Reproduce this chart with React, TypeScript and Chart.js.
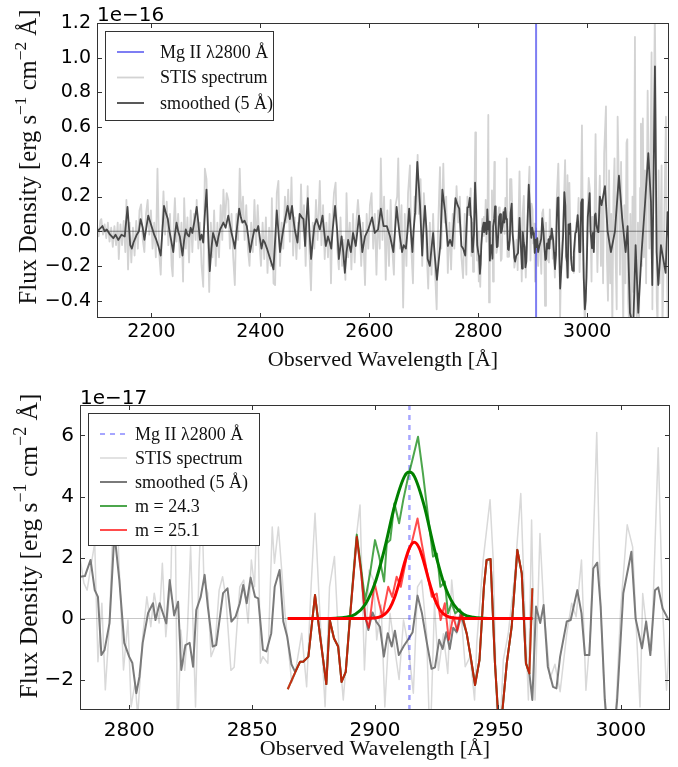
import React, { useEffect, useRef } from "react";
import { Chart, registerables } from "chart.js";

Chart.register(...registerables);

const SERIF = '"Liberation Serif", "Times New Roman", serif';
const SANS = '"DejaVu Sans", sans-serif';

// ---------------- axes / ticks ----------------
const TOP_X_MIN = 2100;
const TOP_X_MAX = 3150;
const TOP_Y_MIN = -5; // units of 1e-17
const TOP_Y_MAX = 12;
const TOP_X_TICKS = [2200, 2400, 2600, 2800, 3000];
const TOP_Y_TICKS = [-4, -2, 0, 2, 4, 6, 8, 10, 12];
const TOP_Y_TICK_LABELS = ["\u22120.4", "\u22120.2", "0.0", "0.2", "0.4", "0.6", "0.8", "1.0", "1.2"];

const BOT_X_MIN = 2780;
const BOT_X_MAX = 3020;
const BOT_Y_MIN = -3;
const BOT_Y_MAX = 7;
const BOT_X_TICKS = [2800, 2850, 2900, 2950, 3000];
const BOT_Y_TICKS = [-2, 0, 2, 4, 6];
const BOT_Y_TICK_LABELS = ["\u22122", "0", "2", "4", "6"];

const MGII_TOP = 2906;
const MGII_ZOOM = 2914;

// ---------------- STIS spectrum (flux in 1e-17 erg/s/cm2/A) ----------------
const RAW_WAVE = [
  2100, 2103, 2106, 2108, 2111, 2114, 2117, 2120, 2123, 2126,
  2129, 2132, 2135, 2138, 2140, 2143, 2146, 2149, 2152, 2154,
  2157, 2160, 2163, 2166, 2169, 2172, 2175, 2178, 2181, 2184,
  2187, 2190, 2193, 2196, 2199, 2202, 2205, 2208, 2211, 2214,
  2217, 2220, 2222, 2225, 2228, 2231, 2234, 2237, 2239, 2241,
  2243, 2246, 2249, 2252, 2255, 2258, 2260, 2263, 2266, 2269,
  2272, 2275, 2278, 2281, 2283, 2286, 2289, 2292, 2295, 2298,
  2301, 2304, 2306, 2309, 2312, 2315, 2318, 2321, 2324, 2327,
  2330, 2332, 2335, 2338, 2341, 2344, 2347, 2350, 2353, 2356,
  2359, 2362, 2365, 2368, 2371, 2374, 2377, 2380, 2383, 2386,
  2389, 2392, 2395, 2398, 2401, 2404, 2407, 2410, 2413, 2416,
  2419, 2421, 2424, 2427, 2430, 2433, 2436, 2439, 2442, 2445,
  2448, 2451, 2454, 2457, 2460, 2463, 2466, 2469, 2472, 2474.5,
  2477, 2480, 2483, 2486.7, 2489, 2492.8, 2496, 2499, 2502, 2505,
  2509, 2512, 2515, 2518, 2521, 2524, 2527, 2529.5, 2532, 2535,
  2538, 2541, 2544, 2547, 2550, 2553, 2556, 2558, 2561, 2564,
  2567, 2570, 2573, 2576, 2579, 2582, 2585, 2588, 2592, 2595,
  2598, 2601, 2604, 2607, 2610, 2613, 2616, 2619, 2621, 2624,
  2627, 2630, 2633, 2636, 2639, 2642, 2645, 2648, 2651, 2653,
  2656, 2659, 2662, 2665, 2668, 2671, 2674.5, 2677, 2680, 2683,
  2686, 2688.6, 2691, 2694, 2697, 2700, 2703, 2705, 2708, 2711,
  2714, 2717, 2720, 2723.5, 2726, 2729.6, 2732, 2735.7, 2738, 2741,
  2744, 2747, 2750, 2753, 2756, 2760, 2763, 2766, 2769, 2772,
  2775, 2778, 2780, 2781.6, 2782.9, 2784.6, 2786, 2787.3, 2788.9, 2790.3,
  2792, 2794.5, 2795.7, 2797.7, 2799.5, 2800.8, 2802.4, 2803.5, 2805.5, 2807.2,
  2808.8, 2810.2, 2812.2, 2813.5, 2814.9, 2817, 2818.3, 2819.7, 2821, 2822.6,
  2823.7, 2825, 2827, 2828.4, 2829.5, 2830.4, 2832, 2833.3, 2834.9, 2836.6,
  2838, 2839.3, 2841.4, 2842.7, 2845, 2846.6, 2848.4, 2849.7, 2851, 2852.2,
  2853.4, 2854.4, 2856.4, 2858.2, 2859.1, 2860.7, 2863.4, 2866.1, 2867.5, 2870.2,
  2872.2, 2874, 2875.6, 2877.3, 2879.7, 2881.5, 2883.5, 2885.4, 2887.1, 2889.8,
  2891.8, 2893.9, 2895.7, 2897.6, 2899.4, 2900.7, 2902.5, 2904, 2906.1, 2907.9,
  2909.8, 2911.6, 2913.6, 2915.6, 2917.3, 2919, 2921, 2922.4, 2924.2, 2925.8,
  2927.8, 2929.6, 2931.2, 2933.2, 2935, 2936.7, 2938.7, 2940.5, 2941.4, 2944,
  2946.8, 2948.1, 2950.1, 2952.2, 2954.2, 2956.9, 2959.3, 2961, 2962.4, 2963.7,
  2965.1, 2967.1, 2968.7, 2971.2, 2973.2, 2975.3, 2978, 2980, 2981.8, 2984,
  2985.8, 2987.7, 2990.2, 2991.8, 2993.5, 2995.5, 2998.2, 2999.9, 3002.6, 3004.8,
  3006.4, 3007.8, 3008.9, 3010.4, 3012.5, 3015.2, 3017, 3018.6, 3020.7, 3023,
  3025, 3027, 3029, 3031, 3034.3, 3036, 3038, 3040, 3042, 3044,
  3046, 3048, 3050, 3052, 3054, 3055.7, 3058, 3060, 3062, 3064,
  3066, 3068, 3070, 3072, 3073.5, 3075, 3077, 3079, 3081, 3083,
  3085, 3087.5, 3089, 3091, 3093, 3095, 3097, 3098.5, 3100, 3102,
  3104, 3106, 3108, 3110.8, 3112, 3114, 3116, 3118, 3119.5, 3121,
  3124, 3126, 3127.5, 3129, 3131, 3133, 3135, 3136.4, 3138, 3140,
  3142, 3144.4, 3146, 3148, 3150,
];
const RAW_FLUX = [
  0.3, -0.3, 0.6, 0.7, -0.2, 0.4, -0.4, 0.5, -0.6, 0.2,
  -0.9, 0.3, -0.8, 0.5, -1.6, 0.4, -0.8, 0.6, -1.2, 1.8,
  -2.2, 0.5, -1.8, 0.2, -1.4, 0.6, -1.0, 1.2, 1.55, -0.5,
  -1.2, 1.0, 1.8, -0.2, 1.2, -1.0, 0.5, -1.5, 3.6, -1.2,
  -2.5, 0.5, 2.3, -0.2, 1.7, -0.8, 1.0, -2.0, -2.6, 0.5,
  1.9, -0.6, 1.0, -1.5, 0.5, -2.9, 1.9, -1.0, 0.8, -1.8,
  1.2, -1.2, 1.0, -0.5, 1.8, -1.0, 0.5, -2.0, -3.2, 3.6,
  3.0, -1.0, -3.5, 0.5, -1.5, 1.2, -2.0, 0.5, -1.5, 1.5,
  -0.5, 2.4, 0.5, 2.2, 1.8, -1.0, 1.0, -1.5, -3.1, 1.0,
  -0.5, 3.6, 0.5, 2.0, -0.5, 1.5, -1.0, -2.0, 0.5, -1.2,
  1.8, -0.8, 1.5, -0.5, -2.0, 0.5, -1.6, 0.8, -2.4, 0.2,
  -2.0, 1.9, -3.0, -3.1, 2.2, 2.9, -2.0, 0.5, -1.0, 2.0,
  0.5, 2.4, -0.6, 3.1, -1.4, 0.8, -1.6, 0.5, -1.0, 2.7,
  0.0, 1.5, -2.0, 2.6, -0.5, -3.4, 0.5, -1.0, 1.8, -0.5,
  2.9, -0.8, 1.5, -1.6, 0.5, -1.5, 1.0, -3.0, 0.5, 2.2,
  2.8, -1.0, -2.2, 0.8, -2.0, -0.5, -2.8, 2.2, -1.5, 0.5,
  -2.2, 1.0, -1.8, 0.5, 1.8, 0.5, -2.0, 0.5, -3.1, 1.0,
  -1.0, 1.5, 2.2, -1.0, 1.0, -2.5, 1.2, -1.0, 4.2, -0.5,
  2.0, -2.8, 1.2, -2.0, 1.8, -1.0, -2.5, 1.5, 2.0, 4.2,
  -1.0, 1.5, -4.4, 1.0, -2.0, 2.2, 3.8, -1.0, -3.0, 2.0,
  1.0, 4.4, 1.0, 3.0, -2.0, 2.2, 0.5, -1.0, -3.3, 0.5,
  -2.5, 1.0, -2.0, -4.5, 0.0, 3.7, -1.0, 3.9, 0.5, 2.0,
  -2.4, 0.5, -2.2, 1.0, -1.0, 2.6, 0.5, 2.0, -1.5, -2.7,
  1.0, -2.5, 2.0, 1.16, 0.93, 1.8, 2.47, -1.42, 0.5, -2.34,
  -0.15, 5.7, 2.15, -1.69, -0.05, -2.89, -2.1, -3.2, -0.6, 0.71,
  -0.27, 0.83, -0.15, 1.81, -0.6, 1.37, 6.7, -4.1, -0.38, -1.7,
  -0.38, 2.35, -2.9, 1.59, 4.0, 1.26, 0.83, -1.25, -0.92, 0.93,
  1.37, 0.71, -1.7, -1.6, 1.04, 1.26, -0.15, 1.92, 1.04, 4.2,
  -1.47, -1.25, -1.47, 3.0, 1.81, 3.0, 0.17, -2.1, -1.8, -0.48,
  -2.24, 1.04, 3.45, 0.6, -2.89, 1.04, 2.03, -1.03, -2.67, 0.17,
  2.26, 3.72, -1.69, 1.59, 1.26, -0.7, 0.44, -2.9, 0.17, -0.92,
  -2.0, -0.05, -0.92, -2.45, 1.04, 1.26, -0.5, -4.3, 0.5, -1.7,
  -0.5, -1.8, 1.26, -0.5, 0.17, -1.58, -1.25, -2.67, -0.8, 1.92,
  3.89, 1.92, -5.0, -1.36, -0.5, 1.48, 4.1, 0.17, -2.67, 3.23,
  -2.67, 2.79, 0.28, -1.97, -1.5, -2.4, -0.5, 0.5, 0.06, 1.92,
  -2.35, -0.38, 6.1, 0.28, -2.9, -5.5, -2.67, 0.28, 3.07, 2.35,
  -0.5, -2.9, 0.82, -0.27, -1.04, 5.6, 0.28, -2.35, 0.6, 3.2,
  -2.0, 1.5, -3.0, 4.5, 7.2, -1.5, -4.0, 3.5, -3.0, 1.0,
  -5.5, 2.0, 4.2, -1.5, -4.5, 6.6, 2.5, -2.5, 4.0, -1.0,
  -5.5, 1.5, -3.0, 5.1, 5.3, -4.0, -5.5, 1.0, -5.5, 2.0,
  -3.5, 11.2, -2.0, -5.5, 0.5, -5.5, 2.5, 6.2, -2.0, 6.5,
  -1.5, 3.5, -3.0, 8.1, 5.0, -1.0, 4.0, 10.3, -4.5, 3.0,
  12.5, 6.0, -4.0, -5.5, 3.5, -3.0, 1.0, 3.8, -5.5, -2.0,
  2.0, 6.6, -2.0, -5.5, 1.0,
];

// ---------------- smoothed (5 A) spectrum ----------------
const SMOOTH_WAVE = [
  2100, 2104, 2110, 2114, 2118, 2124, 2130, 2134, 2139, 2145,
  2151, 2156, 2161, 2164, 2167, 2173, 2177, 2180, 2184, 2187,
  2191, 2194, 2197, 2200, 2205, 2209, 2213, 2217, 2220, 2223,
  2227, 2230, 2233, 2236, 2240, 2243, 2246, 2249, 2252, 2257,
  2260, 2263, 2266, 2269, 2272, 2275, 2279, 2283, 2286, 2289,
  2292, 2295, 2298, 2301, 2304, 2307, 2310, 2313, 2316, 2320,
  2323, 2326, 2329, 2332, 2336, 2341, 2344, 2347, 2350, 2353,
  2357, 2361, 2364, 2367, 2371, 2375, 2378, 2381, 2385, 2389,
  2393, 2396, 2399, 2402, 2405, 2408, 2412, 2416, 2420, 2424,
  2427, 2430, 2433, 2436, 2439, 2442, 2446, 2450, 2454, 2458,
  2461, 2463, 2468, 2472, 2476, 2479, 2482, 2484, 2487, 2490,
  2493, 2496, 2499, 2503, 2506, 2509, 2514, 2517, 2520, 2524,
  2527, 2530, 2533, 2537, 2541, 2544, 2549, 2552, 2555, 2558,
  2561, 2566, 2570, 2575, 2578, 2581, 2584, 2587, 2592, 2598,
  2602, 2605, 2610, 2616, 2621, 2626, 2632, 2635, 2638, 2644,
  2647, 2650, 2653, 2656, 2660, 2663, 2667, 2670, 2673, 2676,
  2679, 2681, 2684, 2688, 2691, 2693, 2697, 2699, 2702, 2705,
  2707, 2711, 2714, 2717, 2720, 2724, 2727, 2730, 2734, 2739,
  2744, 2748, 2752, 2755, 2758, 2762, 2765, 2769, 2772, 2776,
  2780, 2782, 2784.3, 2786, 2787.3, 2788.7, 2790, 2792, 2794, 2796,
  2798, 2800, 2801.3, 2802.9, 2804.2, 2805.5, 2807.7, 2809.7, 2810.7, 2812.4,
  2815.1, 2816.5, 2818.3, 2819.9, 2821.2, 2822.9, 2824.6, 2826, 2827.3, 2829.1,
  2830.7, 2832, 2834, 2835.4, 2838.2, 2840, 2841.6, 2843.3, 2845, 2846.4,
  2847.8, 2849.4, 2851.2, 2852.5, 2854.4, 2855.8, 2857.8, 2859.2, 2861.2, 2862.7,
  2864.3, 2866, 2867.5, 2869.5, 2870.8, 2872.9, 2875.6, 2877.7, 2880.2, 2881.6,
  2883.3, 2885, 2886.4, 2888.1, 2889.8, 2892.6, 2894.4, 2896, 2897.3, 2899,
  2900.5, 2902, 2903.6, 2905.2, 2906.8, 2908.1, 2909.7, 2911.7, 2913.8, 2915.3,
  2917.3, 2919.1, 2921, 2923, 2924.4, 2926.1, 2927.5, 2929, 2930.4, 2931.8,
  2933.2, 2934.7, 2937.3, 2938.9, 2940.7, 2942.5, 2944.3, 2945.4, 2947, 2948.8,
  2950.2, 2951.5, 2953.6, 2955.6, 2957.9, 2959.7, 2961.4, 2962.8, 2964, 2965.5,
  2967.2, 2968.6, 2970.3, 2972.4, 2973.8, 2975.3, 2978, 2979.6, 2982.3, 2984,
  2985.4, 2987.2, 2988.8, 2990.4, 2991.8, 2993.5, 2995.5, 2997, 2998.5, 3001,
  3004.3, 3006, 3008.6, 3010.3, 3012, 3013.9, 3015.2, 3017, 3019.3, 3020.5,
  3023, 3026.3, 3032.4, 3037.3, 3043.4, 3050.8, 3058.1, 3064.2, 3070.4, 3074,
  3078.3, 3084.4, 3088.7, 3093.6, 3099.7, 3105.8, 3112, 3116.9, 3119.3, 3124.2,
  3127.3, 3130.3, 3135.2, 3139.5, 3143.8, 3147.4, 3151,
];
const SMOOTH_FLUX = [
  0.0, 0.1, 0.3, 0.0, 0.1, -0.2, -0.4, -0.2, -0.5, -0.2,
  -0.3, 1.4, -0.8, -1.0, -0.65, -0.2, 0.0, 0.7, 0.2, -0.5,
  0.3, 0.9, 0.6, 0.3, -0.2, -0.5, -0.9, -1.4, 0.0, 1.46,
  1.0, 0.7, 0.0, -0.5, -1.2, -0.2, 0.5, 0.0, -0.3, -1.4,
  -0.5, 0.1, -0.2, -0.3, 0.2, -0.1, 0.6, 1.4, 0.5, -0.5,
  -0.2, -0.65, 1.0, 2.4, 0.0, -2.3, -1.0, -0.1, -0.4, -0.85,
  -0.3, 0.1, 0.3, 0.5, 0.2, 0.9, 0.4, -0.1, -0.5, -1.0,
  0.2, 1.3, 0.8, 0.5, 0.6, 0.3, -0.4, -1.2, -0.5, 0.1,
  0.0, 0.3, -0.4, -1.0, -0.5, -0.65, -1.0, -1.4, -1.8, -2.2,
  -0.5, 1.2, 0.0, -1.2, -0.5, 0.1, 0.8, 1.46, 0.7, 1.46,
  0.6, 0.1, -0.65, 1.0, 0.8, 0.7, -0.85, 0.5, 1.9, 0.0,
  -1.6, -0.6, 0.3, 0.7, 0.4, 0.1, 0.9, 0.0, -0.85, -0.3,
  -0.6, -1.0, 0.2, 1.46, 0.0, -1.6, -0.3, -1.2, -2.4, -1.2,
  -0.5, -1.2, -0.1, -0.85, 0.0, 0.9, 0.0, -1.2, -0.3, 0.1,
  0.5, 0.8, -0.1, 0.1, 1.3, 0.3, 0.3, 0.0, -0.3, -1.2,
  0.0, 1.4, 0.5, -0.3, -1.2, -0.8, -1.0, 0.0, 1.3, 0.0,
  -1.2, 0.0, 1.1, 4.0, 2.5, 1.46, -1.4, 0.0, 1.46, 0.0,
  -1.6, -2.0, -1.0, -0.1, -1.4, -2.8, -1.8, -0.85, 2.4, 1.1,
  -0.85, -0.5, -0.85, 0.5, 1.9, 1.5, 1.3, -0.85, -1.0, -1.4,
  1.37, 1.39, 1.92, 0.93, 0.71, -1.2, -1.03, -0.15, 2.8, 1.26,
  -0.8, -1.25, -1.46, -2.45, -1.9, -0.8, 0.18, 0.5, -0.05, 0.5,
  -0.16, 1.26, 0.1, 0.55, -1.69, -0.87, -0.8, -1.58, 0.28, 0.71,
  1.43, 0.39, -0.92, -0.87, 0.83, 0.99, -0.1, 0.06, 0.5, 1.1,
  0.5, 1.34, 0.71, 0.66, -1.03, -1.08, -0.48, 1.04, 1.59, -0.1,
  -0.6, -1.5, -1.75, -1.42, -1.42, -1.25, 0.77, -0.6, -2.15, -0.05,
  -0.65, -0.92, -2.08, -1.75, 0.0, 2.68, 1.48, 0.06, -0.38, 0.2,
  -0.1, -0.27, -1.25, -0.48, -0.92, -0.4, -1.2, -0.9, -0.65, -0.45,
  0.75, 0.17, -0.75, -1.65, -1.6, -0.7, -1.0, -0.45, -1.0, -0.3,
  -0.45, 0.15, -0.49, -1.25, -2.18, -1.36, 1.04, 1.92, 1.95, -1.47,
  -3.3, -3.3, -1.47, -0.27, 2.25, 1.48, -1.47, -1.8, -2.67, 0.39,
  -0.15, 0.44, -1.58, -2.24, -2.29, -1.25, -0.1, -0.05, 0.93, 0.17,
  -1.2, -1.2, 1.64, 1.83, 0.39, -2.67, -4.5, -4.0, -2.67, 0.83,
  2.19, 0.0, -0.98, -0.1, -1.2, 0.93, 1.02, 0.33, -0.03, -0.05,
  2.0, 1.5, 2.6, 0.0, -1.2, 0.0, 3.2, 0.7, -1.2, 0.3,
  -4.7, -5.5, -0.8, -4.7, -1.2, 1.5, 4.5, 1.7, -3.1, 9.5,
  -1.2, -3.1, -0.8, -1.6, -2.4, 1.1, -1.2,
];

// ---------------- spectrum with injected lines ----------------
const GREEN_WAVE = [
  2864.5, 2866.8, 2869.5, 2870.8, 2872.9, 2875.6, 2877.7, 2880.2, 2881.6, 2883.3,
  2885, 2886.4, 2888.1, 2889.8, 2892.6, 2894.4, 2896, 2898, 2900, 2901.7,
  2903.7, 2904.8, 2906.2, 2907.9, 2909.8, 2911.5, 2913.5, 2915.2, 2917.5, 2919.5,
  2921.6, 2923.6, 2925.2, 2926.6, 2928.4, 2929.7, 2931.1, 2932.7, 2934.5, 2935.3,
  2937.3, 2938.9, 2940.7, 2942.5, 2944.3, 2945.4, 2947, 2948.8, 2950.2, 2951.5,
  2953.6, 2955.6, 2957.9, 2959.7, 2961.4, 2962.8, 2964,
];
const GREEN_FLUX = [
  -2.32, -1.9, -1.42, -1.42, -1.25, 0.77, -0.6, -2.15, -0.05, -0.65,
  -0.92, -2.08, -1.75, 0.05, 2.75, 1.6, 0.6, 1.48, 2.57, 2.03,
  1.21, 2.47, 2.57, 3.78, 3.12, 3.89, 4.65, 5.2, 5.96, 4.76,
  3.34, 2.03, 2.13, 1.04, 1.21, 0.17, 0.5, 0.17, 0.3, 0.17,
  -0.49, -1.25, -2.18, -1.36, 1.04, 1.92, 1.95, -1.47, -3.3, -3.3,
  -1.47, -0.27, 2.25, 1.48, -1.47, -1.8, 0.99,
];
const RED_WAVE = [
  2864.5, 2866.8, 2869.5, 2870.8, 2872.9, 2875.6, 2877.7, 2880.2, 2881.6, 2883.3,
  2885, 2886.4, 2888.1, 2889.8, 2892.6, 2894.4, 2896, 2897.5, 2899.8, 2901.4,
  2903, 2905.4, 2907, 2908.8, 2910.5, 2912.9, 2914.9, 2917.3, 2919, 2921,
  2923.1, 2925.1, 2926.7, 2928.4, 2930, 2931.8, 2933.5, 2935.3,
  2937.3, 2938.9, 2940.7, 2942.5, 2944.3, 2945.4, 2947, 2948.8, 2950.2, 2951.5,
  2953.6, 2955.6, 2957.9, 2959.7, 2961.4, 2962.8, 2964,
];
const RED_FLUX = [
  -2.32, -1.9, -1.42, -1.42, -1.25, 0.77, -0.6, -2.15, -0.05, -0.65,
  -0.92, -2.08, -1.75, 0.0, 2.68, 1.48, 0.06, -0.3, 1.17, 0.6,
  0.06, 1.04, 0.71, 1.37, 1.04, 2.03, 2.47, 3.28, 2.47, 1.59,
  0.71, 0.82, -0.05, 0.5, -0.7, 0.06, -0.4, 0.17,
  -0.49, -1.25, -2.18, -1.36, 1.04, 1.92, 1.95, -1.47, -3.3, -3.3,
  -1.47, -0.27, 2.25, 1.48, -1.47, -1.8, 0.99,
];

// ---------------- line models ----------------
const GREEN_MODEL_WAVE = [
  2864.5, 2880, 2884, 2888, 2892, 2896, 2900, 2904, 2908, 2912,
  2914, 2916, 2920, 2924, 2928, 2932, 2936, 2940, 2944, 2948, 2964,
];
const GREEN_MODEL_FLUX = [
  0, 0, 0.01, 0.04, 0.14, 0.46, 1.16, 2.32, 3.7, 4.66,
  4.8, 4.66, 3.7, 2.32, 1.16, 0.46, 0.14, 0.04, 0.01, 0, 0,
];
const RED_MODEL_WAVE = [
  2864.5, 2896, 2900, 2902, 2904, 2906, 2908, 2910, 2912, 2914,
  2916, 2918, 2920, 2922, 2924, 2926, 2928, 2930, 2932, 2936, 2964,
];
const RED_MODEL_FLUX = [
  0, 0, 0.015, 0.05, 0.14, 0.34, 0.7, 1.22, 1.82, 2.31,
  2.5, 2.31, 1.82, 1.22, 0.7, 0.34, 0.14, 0.05, 0.015, 0, 0,
];

// ---------------- helpers ----------------
const pts = (xs: number[], ys: number[]) => xs.map((x, i) => ({ x, y: ys[i] }));

function lineDs(label: string, data: any[], color: string, width: number, order: number, extra: any = {}) {
  return {
    label,
    data,
    borderColor: color,
    backgroundColor: color,
    borderWidth: width,
    pointRadius: 0,
    pointHoverRadius: 0,
    fill: false,
    tension: 0,
    order,
    borderJoinStyle: "round",
    ...extra,
  };
}

const panelDecor = {
  id: "panelDecor",
  afterDatasetsDraw(chart: any, _a: any, o: any) {
    const { ctx, chartArea: a, scales } = chart;
    const xs = scales.x;
    const ys = scales.y;
    ctx.save();
    ctx.strokeStyle = o.frameColor;
    ctx.lineWidth = 1;
    ctx.beginPath();
    const L = o.tickLen;
    for (const t of xs.ticks) {
      const p = Math.round(xs.getPixelForValue(t.value)) + 0.5;
      ctx.moveTo(p, a.bottom);
      ctx.lineTo(p, a.bottom - L);
      ctx.moveTo(p, a.top);
      ctx.lineTo(p, a.top + L);
    }
    for (const t of ys.ticks) {
      const p = Math.round(ys.getPixelForValue(t.value)) + 0.5;
      ctx.moveTo(a.left, p);
      ctx.lineTo(a.left + L, p);
      ctx.moveTo(a.right, p);
      ctx.lineTo(a.right - L, p);
    }
    ctx.stroke();
    ctx.strokeRect(a.left + 0.5, a.top + 0.5, a.right - a.left - 1, a.bottom - a.top - 1);
    ctx.restore();
  },
  afterDraw(chart: any, _a: any, o: any) {
    const { ctx, chartArea: a } = chart;
    ctx.save();
    // offset text
    ctx.fillStyle = "#000";
    ctx.font = `${o.offsetSize}px ${SANS}`;
    ctx.textAlign = "left";
    ctx.textBaseline = "alphabetic";
    ctx.fillText(o.offsetText, a.left, a.top - o.offsetGap);

    // legend
    const lg = o.legend;
    ctx.fillStyle = "#fff";
    ctx.fillRect(lg.x, lg.y, lg.w, lg.h);
    ctx.strokeStyle = "#333";
    ctx.lineWidth = 1;
    ctx.strokeRect(lg.x + 0.5, lg.y + 0.5, lg.w, lg.h);
    lg.items.forEach((di: number, i: number) => {
      const ds = chart.data.datasets[di];
      const cy = lg.y + lg.first + i * lg.gap;
      ctx.save();
      ctx.strokeStyle = ds.borderColor;
      ctx.lineWidth = Math.min(ds.borderWidth, 2.2);
      ctx.setLineDash(ds.borderDash || []);
      ctx.beginPath();
      ctx.moveTo(lg.x + lg.s0, cy);
      ctx.lineTo(lg.x + lg.s1, cy);
      ctx.stroke();
      ctx.restore();
      ctx.fillStyle = "#111";
      ctx.font = `${lg.size}px ${SERIF}`;
      ctx.textBaseline = "middle";
      ctx.textAlign = "left";
      ctx.fillText(ds.label, lg.x + lg.tx, cy + 1);
    });

    // y-axis title with superscripts
    const yt = o.yTitle;
    const segs: [string, boolean][] = yt.segments;
    const measure = (size: number) =>
      segs.reduce((w, [t, sup]) => {
        ctx.font = `${sup ? size * 0.7 : size}px ${SERIF}`;
        return w + ctx.measureText(t).width;
      }, 0);
    const size = (yt.size * yt.length) / measure(yt.size);
    const total = measure(size);
    ctx.translate(yt.x, yt.cy);
    ctx.rotate(-Math.PI / 2);
    ctx.fillStyle = "#111";
    ctx.textAlign = "left";
    ctx.textBaseline = "alphabetic";
    let x = -total / 2;
    for (const [t, sup] of segs) {
      ctx.font = `${sup ? size * 0.7 : size}px ${SERIF}`;
      ctx.fillText(t, x, sup ? -size * 0.42 : 0);
      x += ctx.measureText(t).width;
    }
    ctx.restore();
  },
};

const Y_TITLE_SEGMENTS: [string, boolean][] = [
  ["Flux Density [erg s", false],
  ["\u22121", true],
  [" cm", false],
  ["\u22122", true],
  [" \u00C5]", false],
];

function axisX(min: number, max: number, ticks: number[], height: number, tickSize: number, tickPad: number, titlePad: number) {
  return {
    type: "linear",
    min,
    max,
    afterBuildTicks: (s: any) => {
      s.ticks = ticks.map((v) => ({ value: v }));
    },
    afterFit: (s: any) => {
      s.height = height;
    },
    grid: { display: false, drawTicks: false },
    border: { display: false },
    ticks: {
      padding: tickPad,
      color: "#000",
      autoSkip: false,
      maxRotation: 0,
      font: { family: SANS, size: tickSize },
      callback: (v: any) => String(v),
    },
    title: {
      display: true,
      text: "Observed Wavelength [\u00C5]",
      color: "#111",
      font: { family: SERIF, size: 22 },
      padding: { top: 0, bottom: titlePad },
    },
  };
}

function axisY(min: number, max: number, ticks: number[], labels: string[], width: number, tickSize: number) {
  return {
    type: "linear",
    min,
    max,
    afterBuildTicks: (s: any) => {
      s.ticks = ticks.map((v) => ({ value: v }));
    },
    afterFit: (s: any) => {
      s.width = width;
    },
    grid: { display: false, drawTicks: false },
    border: { display: false },
    ticks: {
      padding: 6,
      color: "#000",
      autoSkip: false,
      font: { family: SANS, size: tickSize },
      callback: (v: any) => labels[ticks.indexOf(v)],
    },
  };
}

function topConfig(): any {
  return {
    type: "line",
    data: {
      datasets: [
        lineDs("STIS spectrum", pts(RAW_WAVE, RAW_FLUX), "#d3d3d3", 1.8, 4),
        lineDs("", pts([TOP_X_MIN, TOP_X_MAX], [0, 0]), "rgba(0,0,0,0.45)", 1, 3),
        lineDs("Mg II \u03BB2800 \u00C5", pts([MGII_TOP, MGII_TOP], [TOP_Y_MIN, TOP_Y_MAX]), "rgba(40,40,235,0.6)", 2, 2),
        lineDs("smoothed (5 \u00C5)", pts(SMOOTH_WAVE, SMOOTH_FLUX), "#474747", 1.8, 1),
      ],
    },
    options: {
      responsive: false,
      animation: false,
      devicePixelRatio: 1,
      events: [],
      layout: { padding: { left: 0, right: 9, top: 23, bottom: 0 } },
      plugins: {
        legend: { display: false },
        tooltip: { enabled: false },
        panelDecor: {
          frameColor: "#333",
          tickLen: 5,
          offsetText: "1e\u221216",
          offsetSize: 20,
          offsetGap: 2,
          legend: { x: 105, y: 31, w: 168, h: 89, first: 21, gap: 25.5, s0: 12, s1: 39, tx: 55, size: 18, items: [2, 0, 3] },
          yTitle: { segments: Y_TITLE_SEGMENTS, x: 36, cy: 157, size: 22, length: 295 },
        },
      },
      scales: {
        x: axisX(TOP_X_MIN, TOP_X_MAX, TOP_X_TICKS, 62, 19, 3, 7),
        y: axisY(TOP_Y_MIN, TOP_Y_MAX, TOP_Y_TICKS, TOP_Y_TICK_LABELS, 97, 19),
      },
    },
    plugins: [panelDecor],
  };
}

function bottomConfig(): any {
  return {
    type: "line",
    data: {
      datasets: [
        lineDs("Mg II \u03BB2800 \u00C5", pts([MGII_ZOOM, MGII_ZOOM], [BOT_Y_MIN, BOT_Y_MAX]), "rgba(0,0,255,0.35)", 2.5, 5, { borderDash: [5, 5] }),
        lineDs("STIS spectrum", pts(RAW_WAVE, RAW_FLUX), "#d9d9d9", 1.5, 8),
        lineDs("smoothed (5 \u00C5)", pts(SMOOTH_WAVE, SMOOTH_FLUX), "#7a7a7a", 2, 6),
        lineDs("m = 24.3", pts(GREEN_WAVE, GREEN_FLUX), "rgba(0,128,0,0.7)", 2, 4),
        lineDs("m = 25.1", pts(RED_WAVE, RED_FLUX), "rgba(255,0,0,0.7)", 2, 3),
        lineDs("", pts(GREEN_MODEL_WAVE, GREEN_MODEL_FLUX), "#008000", 3, 2, { cubicInterpolationMode: "monotone" }),
        lineDs("", pts(RED_MODEL_WAVE, RED_MODEL_FLUX), "#ff0000", 3, 1, { cubicInterpolationMode: "monotone" }),
        lineDs("", pts([BOT_X_MIN, BOT_X_MAX], [0, 0]), "rgba(0,0,0,0.22)", 1.2, 7),
      ],
    },
    options: {
      responsive: false,
      animation: false,
      devicePixelRatio: 1,
      events: [],
      layout: { padding: { left: 0, right: 8, top: 25, bottom: 0 } },
      plugins: {
        legend: { display: false },
        tooltip: { enabled: false },
        panelDecor: {
          frameColor: "#333",
          tickLen: 5,
          offsetText: "1e\u221217",
          offsetSize: 20,
          offsetGap: 1,
          legend: { x: 88, y: 33, w: 171, h: 132, first: 21, gap: 24, s0: 12, s1: 39, tx: 47, size: 18, items: [0, 1, 2, 3, 4] },
          yTitle: { segments: Y_TITLE_SEGMENTS, x: 37, cy: 166, size: 22, length: 305 },
        },
      },
      scales: {
        x: axisX(BOT_X_MIN, BOT_X_MAX, BOT_X_TICKS, 57, 20, 9, 5),
        y: axisY(BOT_Y_MIN, BOT_Y_MAX, BOT_Y_TICKS, BOT_Y_TICK_LABELS, 80, 20),
      },
    },
    plugins: [panelDecor],
  };
}

export default function App() {
  const topRef = useRef<HTMLCanvasElement>(null);
  const botRef = useRef<HTMLCanvasElement>(null);

  useEffect(() => {
    const c1 = new Chart(topRef.current as HTMLCanvasElement, topConfig());
    const c2 = new Chart(botRef.current as HTMLCanvasElement, bottomConfig());
    return () => {
      c1.destroy();
      c2.destroy();
    };
  }, []);

  return (
    <div style={{ position: "absolute", left: 0, top: 0, width: 678, height: 767, background: "#fff" }}>
      <canvas ref={topRef} width={678} height={380} style={{ position: "absolute", left: 0, top: 0, display: "block" }} />
      <canvas ref={botRef} width={678} height={387} style={{ position: "absolute", left: 0, top: 380, display: "block" }} />
    </div>
  );
}
